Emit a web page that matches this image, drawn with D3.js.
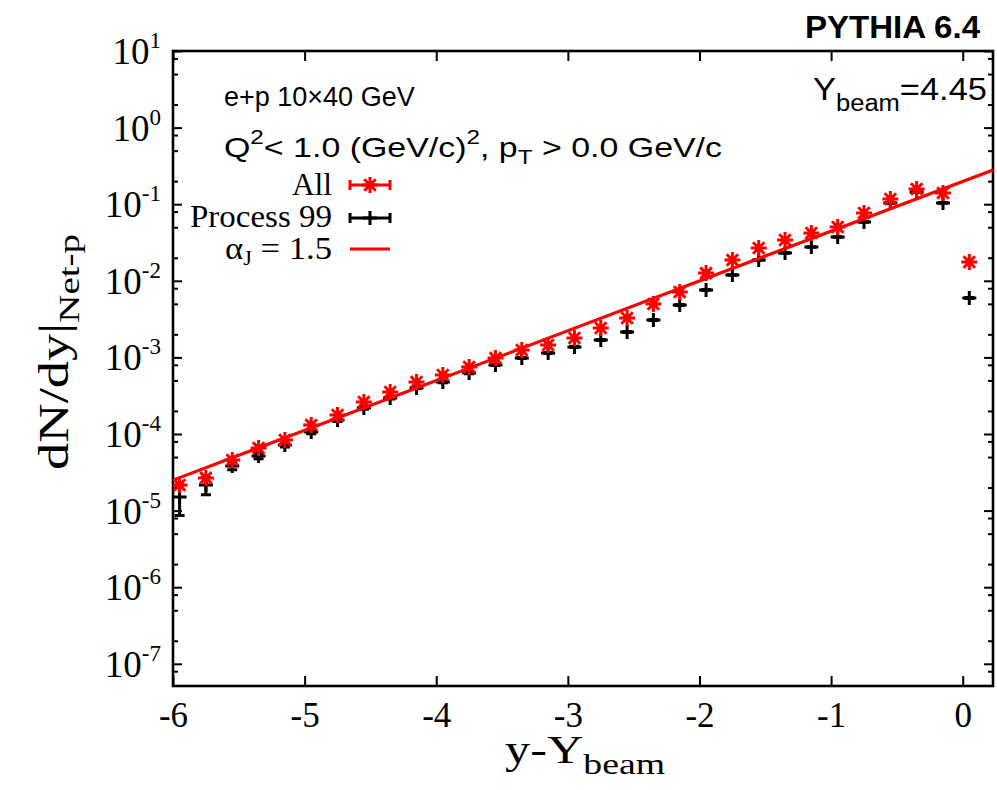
<!DOCTYPE html>
<html><head><meta charset="utf-8">
<script src="https://cdn.jsdelivr.net/npm/d3@7"></script>
<style>body{margin:0;background:#fff;} svg{display:block;}</style>
</head><body>
<svg id="chart" width="997" height="790"></svg>
<script>
// ---- data ----
const xValues = [-5.95,-5.75,-5.55,-5.35,-5.15,-4.95,-4.75,-4.55,-4.35,-4.15,-3.95,-3.75,-3.55,-3.35,-3.15,-2.95,-2.75,-2.55,-2.35,-2.15,-1.95,-1.75,-1.55,-1.35,-1.15,-0.95,-0.75,-0.55,-0.35,-0.15,0.05];
const allValues = [2.16e-5,2.67e-5,4.58e-5,6.56e-5,8.35e-5,1.31e-4,1.77e-4,2.62e-4,3.53e-4,4.77e-4,5.89e-4,7.50e-4,9.8e-4,1.25e-3,1.45e-3,1.79e-3,2.42e-3,3.27e-3,4.98e-3,7.14e-3,1.26e-2,1.87e-2,2.68e-2,3.41e-2,4.21e-2,5.04e-2,7.67e-2,0.117,0.158,0.140,1.76e-2];
const allErr = [3e-6,3e-6,3e-6,4e-6,4e-6,5e-6,6e-6,8e-6,1e-5,1.2e-5,1.4e-5,1.6e-5,2e-5,2.4e-5,2.6e-5,3e-5,4e-5,5e-5,7e-5,9e-5,1.5e-4,2e-4,3e-4,4e-4,5e-4,6e-4,9e-4,1.3e-3,1.8e-3,1.6e-3,2e-4];
const proc99Values = [1.51e-5,2.16e-5,3.82e-5,5.16e-5,7.18e-5,1.06e-4,1.52e-4,2.18e-4,2.95e-4,3.99e-4,4.77e-4,6.25e-4,7.96e-4,9.82e-4,1.14e-3,1.37e-3,1.69e-3,2.15e-3,3.08e-3,4.83e-3,7.59e-3,1.19e-2,1.87e-2,2.31e-2,2.76e-2,3.73e-2,5.86e-2,0.104,0.144,0.104,5.96e-3];
const proc99Err = [6.5e-6,5.5e-6,4e-6,4e-6,4e-6,5e-6,6e-6,7e-6,8e-6,1e-5,1.1e-5,1.3e-5,1.5e-5,1.8e-5,2e-5,2.3e-5,2.7e-5,3.2e-5,4e-5,6e-5,9e-5,1.3e-4,2e-4,2.4e-4,2.8e-4,3.6e-4,5.5e-4,9e-4,1.2e-3,1e-3,1e-4];
const fitX = [-6, 0.23];
const fitY = [2.5e-5, 0.28];
const xTicks = [-6,-5,-4,-3,-2,-1,0];
const yTickExps = [1,0,-1,-2,-3,-4,-5,-6,-7];
const yMinorMantissas = [2,5,8];
const seriesNames = ["All","Process 99"];
const fitName = "α";

// ---- layout ----
const svg = d3.select("#chart");
const L = 173, R = 993, T = 51, B = 686;
const x = d3.scaleLinear().domain([-6, 0.23]).range([L, R]);
const y = d3.scaleLog().domain([Math.pow(10,-7.29), 10]).range([B, T]);
const RED = "#ff0000";
const SERIF = "Liberation Serif, Times New Roman, serif";
const SANS = "Liberation Sans, Arial, sans-serif";

const yMinor = [];
for (let e = -8; e <= 1; e++) for (const m of yMinorMantissas) {
  const v = m * Math.pow(10, e);
  if (v >= y.domain()[0] && v <= y.domain()[1]) yMinor.push(v);
}

function styleAxis(g){ g.select(".domain").remove(); g.selectAll("line").attr("stroke","#000").attr("stroke-width",2); }

// bottom axis
const gx = svg.append("g").attr("transform",`translate(0,${B})`)
  .call(d3.axisBottom(x).tickValues(xTicks).tickSize(-10).tickPadding(16).tickFormat(d => String(d)));
styleAxis(gx);
gx.selectAll("text").attr("font-family",SERIF).attr("font-size",35).attr("fill","#000").attr("dy","0.71em");
// top axis (ticks only)
const gxt = svg.append("g").attr("transform",`translate(0,${T})`)
  .call(d3.axisTop(x).tickValues(xTicks).tickSize(-10).tickFormat(""));
styleAxis(gxt);

// left axis
const gy = svg.append("g").attr("transform",`translate(${L},0)`)
  .call(d3.axisLeft(y).tickValues(yTickExps.map(e=>Math.pow(10,e))).tickSize(-9).tickFormat(""));
styleAxis(gy);
const gym = svg.append("g").attr("transform",`translate(${L},0)`)
  .call(d3.axisLeft(y).tickValues(yMinor).tickSize(-5).tickFormat(""));
styleAxis(gym);
// right axis
const gyr = svg.append("g").attr("transform",`translate(${R},0)`)
  .call(d3.axisRight(y).tickValues(yTickExps.map(e=>Math.pow(10,e))).tickSize(-9).tickFormat(""));
styleAxis(gyr);
const gyrm = svg.append("g").attr("transform",`translate(${R},0)`)
  .call(d3.axisRight(y).tickValues(yMinor).tickSize(-5).tickFormat(""));
styleAxis(gyrm);

// y tick labels with superscripts
const ylab = svg.append("g").attr("font-family",SERIF).attr("fill","#000");
yTickExps.forEach(e => {
  const t = ylab.append("text").attr("x",161).attr("y", y(Math.pow(10,e)) + 13).attr("text-anchor","end").attr("font-size",37);
  t.append("tspan").text("10");
  t.append("tspan").attr("dy",-16).attr("font-size",23).text(String(e));
});

// frame
svg.append("rect").attr("x",L).attr("y",T).attr("width",R-L).attr("height",B-T)
  .attr("fill","none").attr("stroke","#000").attr("stroke-width",2.6);

// clip
svg.append("clipPath").attr("id","clip").append("rect").attr("x",L).attr("y",T).attr("width",R-L).attr("height",B-T);
const plot = svg.append("g").attr("clip-path","url(#clip)");

const starPath = s => { const k = s*0.72; return `M${-s},0H${s}M0,${-s}V${s}M${-k},${-k}L${k},${k}M${-k},${k}L${k},${-k}`; };
const plusPath = s => `M${-s},0H${s}M0,${-s}V${s}`;

const p99 = xValues.map((xv,i)=>({x:xv, v:proc99Values[i], e:proc99Err[i]}));
const all = xValues.map((xv,i)=>({x:xv, v:allValues[i], e:allErr[i]}));

const gb = plot.append("g").attr("stroke","#000").attr("stroke-width",3).attr("fill","none");
gb.selectAll("path.err").data(p99).join("path").attr("class","err")
  .attr("d", d => { const cx = x(d.x), y1 = y(d.v + d.e), y2 = y(d.v - d.e);
    return `M${cx},${y1}V${y2}M${cx-5},${y1}H${cx+5}M${cx-5},${y2}H${cx+5}`; });
gb.selectAll("path.mk").data(p99).join("path").attr("class","mk")
  .attr("transform", d=>`translate(${x(d.x)},${y(d.v)})`).attr("d", plusPath(7));

plot.append("line").attr("x1",x(fitX[0])).attr("y1",y(fitY[0])).attr("x2",x(fitX[1])).attr("y2",y(fitY[1]))
  .attr("stroke",RED).attr("stroke-width",3.2);

const gr = plot.append("g").attr("stroke",RED).attr("stroke-width",3).attr("fill","none");
gr.selectAll("path.err").data(all).join("path").attr("class","err")
  .attr("d", d => { const cx = x(d.x), y1 = y(d.v + d.e), y2 = y(d.v - d.e);
    return `M${cx},${y1}V${y2}`; });
gr.selectAll("path.mk").data(all).join("path").attr("class","mk")
  .attr("transform", d=>`translate(${x(d.x)},${y(d.v)})`).attr("d", starPath(8));

// legend
const lg = svg.append("g").attr("font-family",SERIF).attr("font-size",31).attr("fill","#000");
lg.append("text").attr("x",332).attr("y",195).attr("text-anchor","end").attr("textLength",40).attr("lengthAdjust","spacingAndGlyphs").text(seriesNames[0]);
lg.append("text").attr("x",332).attr("y",227).attr("text-anchor","end").attr("textLength",142).attr("lengthAdjust","spacingAndGlyphs").text(seriesNames[1]);
const at = lg.append("text").attr("x",332).attr("y",259).attr("text-anchor","end").attr("textLength",107).attr("lengthAdjust","spacingAndGlyphs");
at.append("tspan").text(fitName);
at.append("tspan").attr("dy",6).attr("font-size",20).text("J");
at.append("tspan").attr("dy",-6).text(" = 1.5");
function legSample(yc, color, mk){
  const g = svg.append("g").attr("stroke",color).attr("stroke-width",3).attr("fill","none");
  g.append("path").attr("d",`M350,${yc}H390M350,${yc-5}V${yc+5}M390,${yc-5}V${yc+5}`);
  g.append("path").attr("transform",`translate(370,${yc})`).attr("d",mk);
}
legSample(185, RED, starPath(8));
legSample(218, "#000", plusPath(7));
svg.append("line").attr("x1",350).attr("x2",390).attr("y1",249).attr("y2",249).attr("stroke",RED).attr("stroke-width",3.2);

// annotations
const an = svg.append("g").attr("font-family",SANS).attr("fill","#000");
an.append("text").attr("x",224).attr("y",106).attr("font-size",27).text("e+p 10×40 GeV");
const q = an.append("text").attr("x",224).attr("y",157).attr("font-size",28).attr("textLength",498).attr("lengthAdjust","spacingAndGlyphs");
q.append("tspan").text("Q");
q.append("tspan").attr("dy",-13).attr("font-size",20).text("2");
q.append("tspan").attr("dy",13).text("< 1.0 (GeV/c)");
q.append("tspan").attr("dy",-13).attr("font-size",20).text("2");
q.append("tspan").attr("dy",13).text(", p");
q.append("tspan").attr("dy",7).attr("font-size",20).text("T");
q.append("tspan").attr("dy",-7).text(" > 0.0 GeV/c");
const yb = an.append("text").attr("x",987).attr("y",100).attr("text-anchor","end").attr("font-size",31).attr("textLength",174).attr("lengthAdjust","spacingAndGlyphs");
yb.append("tspan").text("Y");
yb.append("tspan").attr("dy",11).attr("font-size",23).text("beam");
yb.append("tspan").attr("dy",-11).text("=4.45");
an.append("text").attr("x",980).attr("y",38).attr("text-anchor","end").attr("font-size",32).attr("font-weight","bold").attr("textLength",175).attr("lengthAdjust","spacingAndGlyphs").text("PYTHIA 6.4");

// axis titles
const xt = svg.append("text").attr("x",505).attr("y",763)
  .attr("font-family",SERIF).attr("font-size",40).attr("textLength",160).attr("lengthAdjust","spacingAndGlyphs");
xt.append("tspan").text("y-Y");
xt.append("tspan").attr("dy",11).attr("font-size",30).text("beam");
const yt = svg.append("text").attr("transform","translate(68,470) rotate(-90)")
  .attr("font-family",SERIF).attr("font-size",42).attr("textLength",236).attr("lengthAdjust","spacingAndGlyphs");
yt.append("tspan").text("dN/dy|");
yt.append("tspan").attr("dy",11).attr("font-size",30).text("Net-p");
</script>
</body></html>
